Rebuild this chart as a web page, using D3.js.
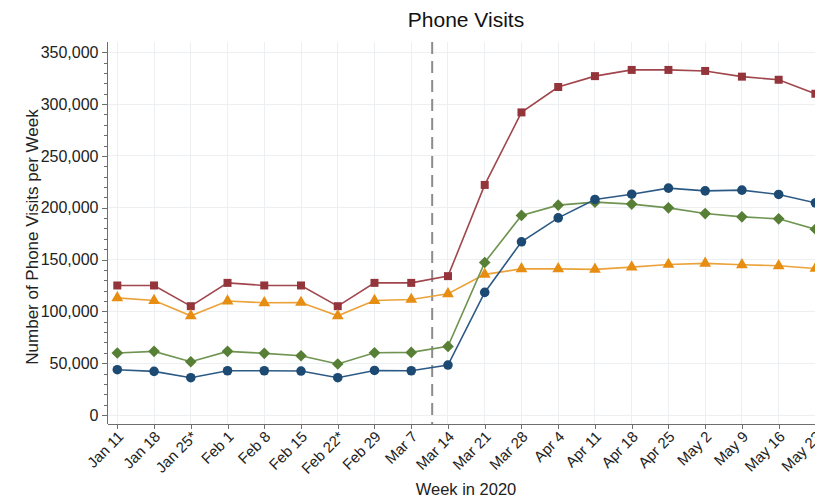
<!DOCTYPE html>
<html lang="en">
<head>
<meta charset="utf-8">
<title>Phone Visits</title>
<script src="https://cdn.jsdelivr.net/npm/d3@7/dist/d3.min.js"></script>
<style>
body { margin: 0; background: #fff; }
svg { font-family: "Liberation Sans", Arial, sans-serif; }
.axis path, .axis line { stroke: #6e6e6e; shape-rendering: crispEdges; }
.grid line { stroke: #edf0f3; stroke-width: 1; shape-rendering: crispEdges; }
</style>
</head>
<body>
<script>
var w = 815, h = 499;

// week labels (x axis)
var weeks = ["Jan 11", "Jan 18", "Jan 25*", "Feb 1", "Feb 8", "Feb 15", "Feb 22*", "Feb 29", "Mar 7", "Mar 14",
             "Mar 21", "Mar 28", "Apr 4", "Apr 11", "Apr 18", "Apr 25", "May 2", "May 9", "May 16", "May 23"];

// series values
var redSquares = [125000, 125000, 105000, 127500, 125000, 125000, 105000, 127500, 127500, 134000,
                  222000, 292000, 316500, 327000, 333000, 333000, 332000, 326500, 323500, 310000];
var orangeTriangles = [113000, 110500, 95700, 110000, 108300, 108600, 95700, 110500, 111500, 117000,
                       135700, 141000, 141000, 140500, 142700, 145300, 146300, 145000, 144000, 141400];
var greenDiamonds = [59800, 61400, 51400, 61400, 59500, 57200, 49200, 60100, 60400, 66200,
                     147200, 192600, 202500, 205400, 203500, 199900, 194400, 191200, 189300, 179300];
var blueCircles = [43700, 42100, 36000, 42700, 42700, 42400, 36000, 43000, 42700, 48200,
                   118300, 167100, 190200, 208000, 213100, 218900, 216300, 217000, 212800, 204700];

var yTicks = [0, 50000, 100000, 150000, 200000, 250000, 300000, 350000];
var cutoffWeek = 8.57; // dashed line, a few days before Mar 14

var svg = d3.select("body").append("svg")
    .attr("width", w)
    .attr("height", h);

var xScale = d3.scaleLinear().domain([0, 19]).range([117.3, 815.4]);
var yScale = d3.scaleLinear().domain([0, 350000]).range([415, 52.3]);

var plotTop = 42, plotBottom = 424, plotLeft = 107.5;

// gridlines
var grid = svg.append("g").attr("class", "grid");
grid.selectAll("line.v")
    .data(weeks)
    .enter().append("line")
    .attr("x1", function(d, i) { return xScale(i); })
    .attr("x2", function(d, i) { return xScale(i); })
    .attr("y1", plotTop)
    .attr("y2", plotBottom);
grid.selectAll("line.h")
    .data(yTicks)
    .enter().append("line")
    .attr("x1", plotLeft)
    .attr("x2", w)
    .attr("y1", function(d) { return yScale(d); })
    .attr("y2", function(d) { return yScale(d); });

// dashed reference line
svg.append("line")
    .attr("x1", xScale(cutoffWeek))
    .attr("x2", xScale(cutoffWeek))
    .attr("y1", plotTop)
    .attr("y2", plotBottom)
    .attr("stroke", "#8c8c8c")
    .attr("stroke-width", 2)
    .attr("stroke-dasharray", "12,7");

// y axis with minor ticks
var yMinor = d3.axisLeft(yScale).tickValues(d3.range(0, 350001, 10000)).tickSize(4).tickFormat("");
svg.append("g")
    .attr("class", "axis")
    .attr("transform", "translate(" + plotLeft + ",0)")
    .call(yMinor)
    .call(function(g) { g.select(".domain").remove(); });

var yAxis = d3.axisLeft(yScale).tickValues(yTicks).tickSizeOuter(0).tickSize(6).tickPadding(3)
    .tickFormat(d3.format(","));
var yg = svg.append("g")
    .attr("class", "axis")
    .attr("transform", "translate(" + plotLeft + ",0)")
    .call(yAxis);
yg.select(".domain").attr("d", "M0," + plotTop + "V" + plotBottom);
yg.selectAll("text").attr("font-size", "16px").attr("fill", "#222").attr("font-family", "Liberation Sans, Arial, sans-serif");

// x axis
var xAxis = d3.axisBottom(xScale).tickValues(d3.range(0, 20)).tickSize(5).tickSizeOuter(0)
    .tickFormat(function(i) { return weeks[i]; });
var xg = svg.append("g")
    .attr("class", "axis")
    .attr("transform", "translate(0," + plotBottom + ")")
    .call(xAxis);
xg.select(".domain").attr("d", "M" + plotLeft + ",0H" + w);
xg.selectAll("text")
    .attr("font-size", "15px")
    .attr("fill", "#222")
    .attr("font-family", "Liberation Sans, Arial, sans-serif")
    .style("text-anchor", "end")
    .attr("y", 0)
    .attr("dx", 0)
    .attr("dy", "0.35em")
    .attr("transform", "translate(3,10) rotate(-45)");

// series
var series = [
    { values: redSquares, line: "#a0464c", fill: "#94353c", shape: d3.symbolSquare, size: 64, rot: 0 },
    { values: orangeTriangles, line: "#eca23a", fill: "#e68d12", shape: d3.symbolTriangle, size: 60, rot: 0 },
    { values: greenDiamonds, line: "#6f9451", fill: "#577f35", shape: d3.symbolSquare, size: 68, rot: 45 },
    { values: blueCircles, line: "#2d5a85", fill: "#1c4a73", shape: d3.symbolCircle, size: 72, rot: 0 }
];

var line = d3.line()
    .x(function(d, i) { return xScale(i); })
    .y(function(d) { return yScale(d); });

series.forEach(function(s) {
    svg.append("path")
        .datum(s.values)
        .attr("fill", "none")
        .attr("stroke", s.line)
        .attr("stroke-width", 1.6)
        .attr("d", line);
    svg.selectAll(null)
        .data(s.values)
        .enter().append("path")
        .attr("d", d3.symbol().type(s.shape).size(s.size))
        .attr("transform", function(d, i) {
            return "translate(" + xScale(i) + "," + yScale(d) + ") rotate(" + s.rot + ")";
        })
        .attr("fill", s.fill);
});

// titles
svg.append("text")
    .attr("x", 466)
    .attr("y", 27)
    .attr("text-anchor", "middle")
    .attr("font-size", "21px")
    .attr("fill", "#111")
    .text("Phone Visits");

svg.append("text")
    .attr("transform", "translate(38,237) rotate(-90)")
    .attr("text-anchor", "middle")
    .attr("font-size", "17px")
    .attr("fill", "#222")
    .text("Number of Phone Visits per Week");

svg.append("text")
    .attr("x", 466)
    .attr("y", 495)
    .attr("text-anchor", "middle")
    .attr("font-size", "16.5px")
    .attr("fill", "#222")
    .text("Week in 2020");
</script>
</body>
</html>
